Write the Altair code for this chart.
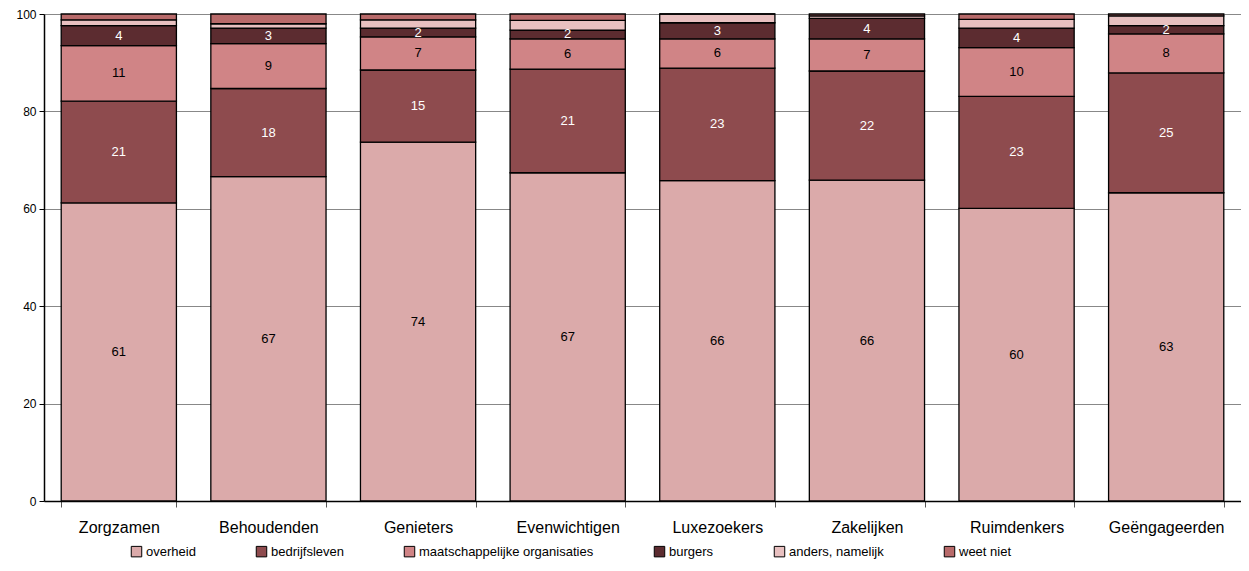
import altair as alt
import pandas as pd

categories = ["Zorgzamen", "Behoudenden", "Genieters", "Evenwichtigen",
              "Luxezoekers", "Zakelijken", "Ruimdenkers", "Geëngageerden"]
series = ["overheid", "bedrijfsleven", "maatschappelijke organisaties",
          "burgers", "anders, namelijk", "weet niet"]
colors = ["#DBAAAA", "#8E4B4E", "#D08486", "#5C2C30", "#E8C0C0", "#B86A6A"]

overheid = [61.2, 66.6, 73.7, 67.4, 65.8, 65.9, 60.1, 63.3]
bedrijfsleven = [20.9, 18.1, 14.8, 21.3, 23.1, 22.4, 23.0, 24.6]
maatschappelijk = [11.4, 9.2, 6.8, 6.2, 6.0, 6.6, 10.0, 8.0]
burgers = [4.1, 3.2, 1.8, 1.8, 3.3, 4.2, 4.0, 1.7]
anders = [1.2, 0.9, 1.7, 2.0, 1.8, 0.5, 1.8, 2.0]
weet_niet = [1.2, 2.0, 1.2, 1.3, 0.0, 0.4, 1.1, 0.4]

all_vals = [overheid, bedrijfsleven, maatschappelijk, burgers, anders, weet_niet]
rows = []
for si, (s, vals) in enumerate(zip(series, all_vals)):
    for c, v in zip(categories, vals):
        rows.append({"cat": c, "series": s, "idx": si, "value": v})
df = pd.DataFrame(rows)

FONT = "Liberation Sans"

base = alt.Chart(df).transform_stack(
    stack="value", groupby=["cat"], as_=["y0", "y1"],
    sort=[alt.SortField("idx", order="ascending")]
).transform_calculate(
    mid="(datum.y0 + datum.y1) / 2",
    tcol="(datum.idx == 1 || datum.idx == 3) ? '#FFFFFF' : '#000000'"
)

xenc = alt.X("cat:N", sort=categories, title=None,
             scale=alt.Scale(paddingInner=0.23, paddingOuter=0.115),
             axis=alt.Axis(labelAngle=0, labelFontSize=16, labelColor="#000",
                           labelFont=FONT, tickBand="extent", tickSize=6,
                           tickColor="#555", labelPadding=12,
                           domainColor="#000", domainWidth=1.5))

bars = base.mark_bar(stroke="#000", strokeWidth=1.3).encode(
    x=xenc,
    y=alt.Y("y0:Q", title=None,
            scale=alt.Scale(domain=[0, 100], nice=False),
            axis=alt.Axis(values=[0, 20, 40, 60, 80, 100], labelFontSize=12,
                          labelFont=FONT, labelColor="#000", tickSize=5,
                          tickColor="#000", domainColor="#000", domainWidth=1.5,
                          grid=True, gridColor="#888", gridWidth=1, labelPadding=3)),
    y2="y1:Q",
    color=alt.Color("series:N", sort=series,
                    scale=alt.Scale(domain=series, range=colors),
                    legend=alt.Legend(title=None, orient="none", direction="horizontal",
                                      legendX=86, legendY=531, columns=6,
                                      columnPadding=58, labelFontSize=13,
                                      labelFont=FONT, labelColor="#000",
                                      symbolType="square", symbolSize=110,
                                      symbolStrokeColor="#000", symbolStrokeWidth=1,
                                      labelOffset=3, labelLimit=300)),
)

texts = base.transform_filter("datum.idx < 4").mark_text(
    fontSize=13, font=FONT
).encode(
    x=alt.X("cat:N", sort=categories),
    y=alt.Y("mid:Q"),
    text=alt.Text("value:Q", format="d"),
    fill=alt.Fill("tcol:N", scale=None, legend=None),
)

chart = alt.layer(bars, texts).properties(
    width=1197, height=487,
    autosize=alt.AutoSizeParams(type="none"),
    padding={"left": 36, "top": 6, "right": 0, "bottom": 62},
).configure_view(stroke=None)

chart.save("out.html", embed_options={"renderer": "svg", "actions": False})
